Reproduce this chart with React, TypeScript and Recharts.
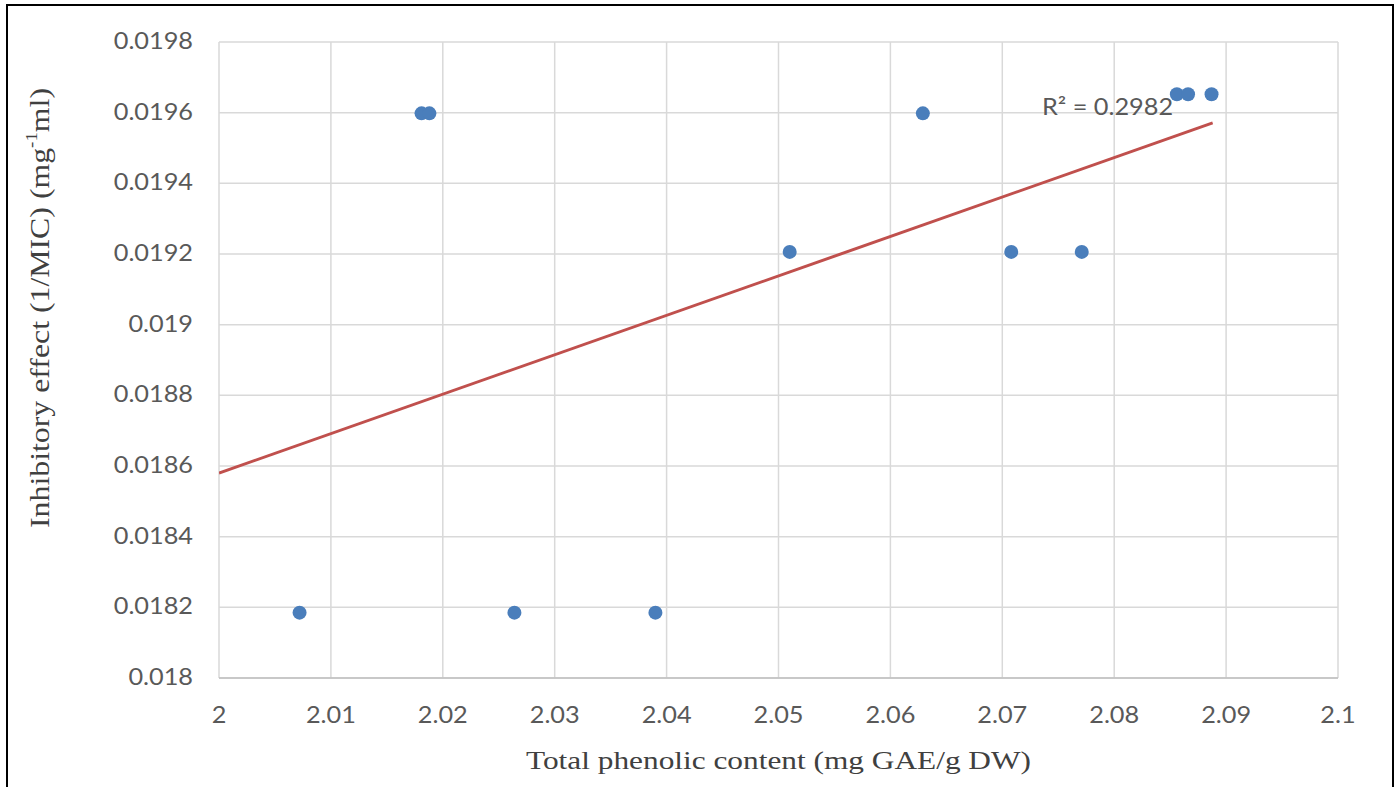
import React from 'react';
import { ScatterChart, Scatter, XAxis, YAxis, CartesianGrid, ReferenceDot } from 'recharts';

// total phenolic content (mg GAE/g DW)
const phenolic = [2.0072, 2.0181, 2.0188, 2.0264, 2.039, 2.051, 2.0629, 2.0708, 2.0771, 2.0856, 2.0866, 2.0887];
// inhibitory effect 1/MIC
const inhibitory = [0.018185, 0.019598, 0.019598, 0.018185, 0.018185, 0.019206, 0.019598, 0.019206, 0.019206, 0.019652, 0.019652, 0.019652];

// linear trendline ends
const trendX = [2.0, 2.0888];
const trendY = [0.01858, 0.019571];

const xTicks = [2, 2.01, 2.02, 2.03, 2.04, 2.05, 2.06, 2.07, 2.08, 2.09, 2.1];
const yTicks = [0.018, 0.0182, 0.0184, 0.0186, 0.0188, 0.019, 0.0192, 0.0194, 0.0196, 0.0198];
const r2Text = 'R² = 0.2982';
const r2Pos = { x: 2.0794, y: 0.019615 };

const points = phenolic.map((x, i) => ({ x, y: inhibitory[i] }));
const trend = trendX.map((x, i) => ({ x, y: trendY[i] }));

const fmt = (v: number) => String(parseFloat(v.toFixed(4)));

const tickFont = '"Lato", "Open Sans", sans-serif';
const titleFont = '"Liberation Serif", "Times New Roman", serif';
const STRETCH = 1.1;

const XTick = (props: any) => {
  const { x, y, payload } = props;
  return (
    <g transform={`translate(${x},${y + 37})`}>
      <text transform={`scale(${STRETCH},1)`} textAnchor="middle" fill="#595959" fontSize={23} fontFamily={tickFont}>
        {fmt(payload.value)}
      </text>
    </g>
  );
};

const YTick = (props: any) => {
  const { x, y, payload } = props;
  return (
    <g transform={`translate(${x - 18},${y + 7})`}>
      <text transform={`scale(${STRETCH},1)`} textAnchor="end" fill="#595959" fontSize={23} fontFamily={tickFont}>
        {fmt(payload.value)}
      </text>
    </g>
  );
};

const R2Label = (props: any) => {
  const { viewBox } = props;
  const cx = viewBox.x + (viewBox.width || 0) / 2;
  const cy = viewBox.y + (viewBox.height || 0) / 2;
  return (
    <g transform={`translate(${cx},${cy + 8})`}>
      <text transform={`scale(${STRETCH},1)`} textAnchor="middle" fill="#595959" fontSize={23} fontFamily={tickFont}>
        {r2Text}
      </text>
    </g>
  );
};

const YTitle = (props: any) => {
  const { viewBox } = props;
  const cx = 40;
  const cy = viewBox.y + viewBox.height / 2 - 52;
  return (
    <text
      transform={`translate(${cx},${cy}) rotate(-90)`}
      textAnchor="middle"
      dominantBaseline="central"
      fill="#404040"
      fontSize={27}
      fontFamily={titleFont}
      textLength={440}
      lengthAdjust="spacingAndGlyphs"
    >
      Inhibitory effect (1/MIC) (mg
      <tspan dy={-9} fontSize={16}>-1</tspan>
      <tspan dy={9}>ml)</tspan>
    </text>
  );
};

const XTitle = (props: any) => {
  const { viewBox } = props;
  return (
    <text
      x={viewBox.x + viewBox.width / 2}
      y={760}
      textAnchor="middle"
      dominantBaseline="central"
      fill="#404040"
      fontSize={26}
      fontFamily={titleFont}
      textLength={505}
      lengthAdjust="spacingAndGlyphs"
    >
      Total phenolic content (mg GAE/g DW)
    </text>
  );
};

export default function App() {
  return (
    <div style={{ position: 'absolute', left: 0, top: 0, width: 1397, height: 787, background: '#fff', overflow: 'hidden' }}>
      <div
        style={{
          position: 'absolute',
          left: 6,
          top: 4,
          width: 1388,
          height: 820,
          border: '2px solid #000',
          boxSizing: 'border-box',
        }}
      />
      <div style={{ position: 'absolute', left: 0, top: 0 }}>
        <ScatterChart width={1397} height={787} margin={{ top: 42, right: 59, left: 119, bottom: 69 }}>
          <CartesianGrid stroke="#d9d9d9" strokeWidth={1.5} />
          <XAxis
            type="number"
            dataKey="x"
            domain={[2, 2.1]}
            ticks={xTicks}
            allowDataOverflow
            height={40}
            tickLine={false}
            axisLine={{ stroke: '#bfbfbf', strokeWidth: 1.5 }}
            tick={<XTick />}
            interval={0}
            label={<XTitle />}
          />
          <YAxis
            type="number"
            dataKey="y"
            domain={[0.018, 0.0198]}
            ticks={yTicks}
            allowDataOverflow
            width={100}
            tickLine={false}
            axisLine={false}
            tick={<YTick />}
            interval={0}
            label={<YTitle />}
          />
          <Scatter
            data={trend}
            line={{ stroke: '#c0504d', strokeWidth: 3 }}
            shape={() => null}
            isAnimationActive={false}
          />
          <ReferenceDot x={r2Pos.x} y={r2Pos.y} r={0} fill="none" stroke="none" label={<R2Label />} />
          <Scatter data={points} fill="#4a7ebb" isAnimationActive={false} shape={(p: any) => <circle cx={p.cx} cy={p.cy} r={7} fill="#4a7ebb" />} />
        </ScatterChart>
      </div>
    </div>
  );
}
